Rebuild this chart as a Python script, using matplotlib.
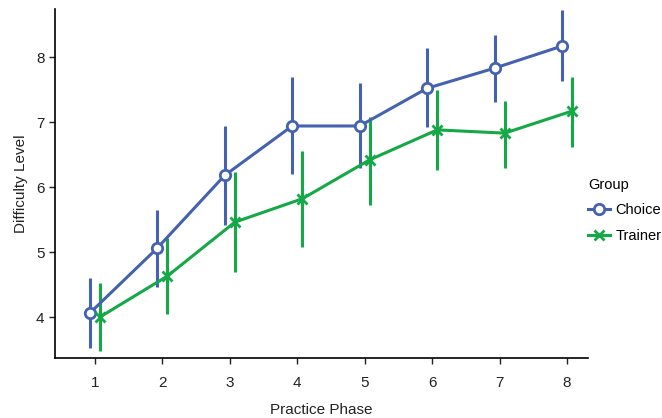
import matplotlib.pyplot as plt
from matplotlib.lines import Line2D
import numpy as np

plt.rcParams['font.family'] = ['Liberation Sans', 'DejaVu Sans']

# Practice phases
phases = [1, 2, 3, 4, 5, 6, 7, 8]

# Choice group: mean difficulty and interval bounds
choice_mean = [4.06, 5.06, 6.18, 6.94, 6.94, 7.52, 7.83, 8.17]
choice_low = [3.53, 4.46, 5.42, 6.20, 6.29, 6.92, 7.31, 7.63]
choice_high = [4.60, 5.65, 6.94, 7.70, 7.60, 8.14, 8.34, 8.73]

# Trainer group
trainer_mean = [4.00, 4.63, 5.46, 5.82, 6.42, 6.88, 6.83, 7.17]
trainer_low = [3.48, 4.05, 4.70, 5.08, 5.73, 6.26, 6.30, 6.62]
trainer_high = [4.52, 5.22, 6.23, 6.56, 7.08, 7.50, 7.33, 7.70]

blue = '#4462B0'
green = '#14A846'
dodge = 0.075

fig = plt.figure(figsize=(6.62, 4.18), dpi=100)
ax = fig.add_axes([55 / 662, 60 / 418, 533 / 662, 349 / 418])

x = np.array(phases)

def draw(xs, mean, low, high, color, marker, mfc, ms, mew):
    mean = np.array(mean)
    yerr = [mean - np.array(low), np.array(high) - mean]
    ax.errorbar(xs, mean, yerr=yerr, fmt='none', ecolor=color, elinewidth=2.2, capsize=0, zorder=2)
    ax.plot(xs, mean, color=color, lw=2.2, zorder=3)
    ax.plot(xs, mean, ls='none', marker=marker, ms=ms, mfc=mfc, mec=color, mew=mew, zorder=4)

draw(x - dodge, choice_mean, choice_low, choice_high, blue, 'o', 'white', 7.5, 2)
draw(x + dodge, trainer_mean, trainer_low, trainer_high, green, 'x', green, 6.5, 2)

ax.set_xlim(0.41, 8.31)
ax.set_ylim(3.37, 8.74)
ax.set_xticks(phases)
ax.set_yticks([4, 5, 6, 7, 8])
ax.set_xlabel('Practice Phase', fontsize=11, color='#222222', labelpad=9)
ax.set_ylabel('Difficulty Level', fontsize=11, color='#222222', labelpad=6)
ax.tick_params(labelsize=11, colors='#222222', length=4, width=1)
ax.tick_params(axis='x', pad=9)
ax.spines['top'].set_visible(False)
ax.spines['right'].set_visible(False)
for s in ['left', 'bottom']:
    ax.spines[s].set_linewidth(1.2)

handles = [
    Line2D([], [], color=blue, lw=2.2, marker='o', ms=7.5, mfc='white', mec=blue, mew=2),
    Line2D([], [], color=green, lw=2.2, marker='x', ms=6.5, mec=green, mew=2),
]
leg = fig.legend(handles, ['Choice', 'Trainer'], title='Group', loc='upper left',
                 bbox_to_anchor=(582 / 662, 1 - 172 / 418), frameon=False,
                 fontsize=10.5, title_fontsize=10.5, handlelength=1.5,
                 handletextpad=0.4, labelspacing=0.8, borderaxespad=0)
leg._legend_box.align = 'left'

fig.savefig('out.png', dpi=100)
